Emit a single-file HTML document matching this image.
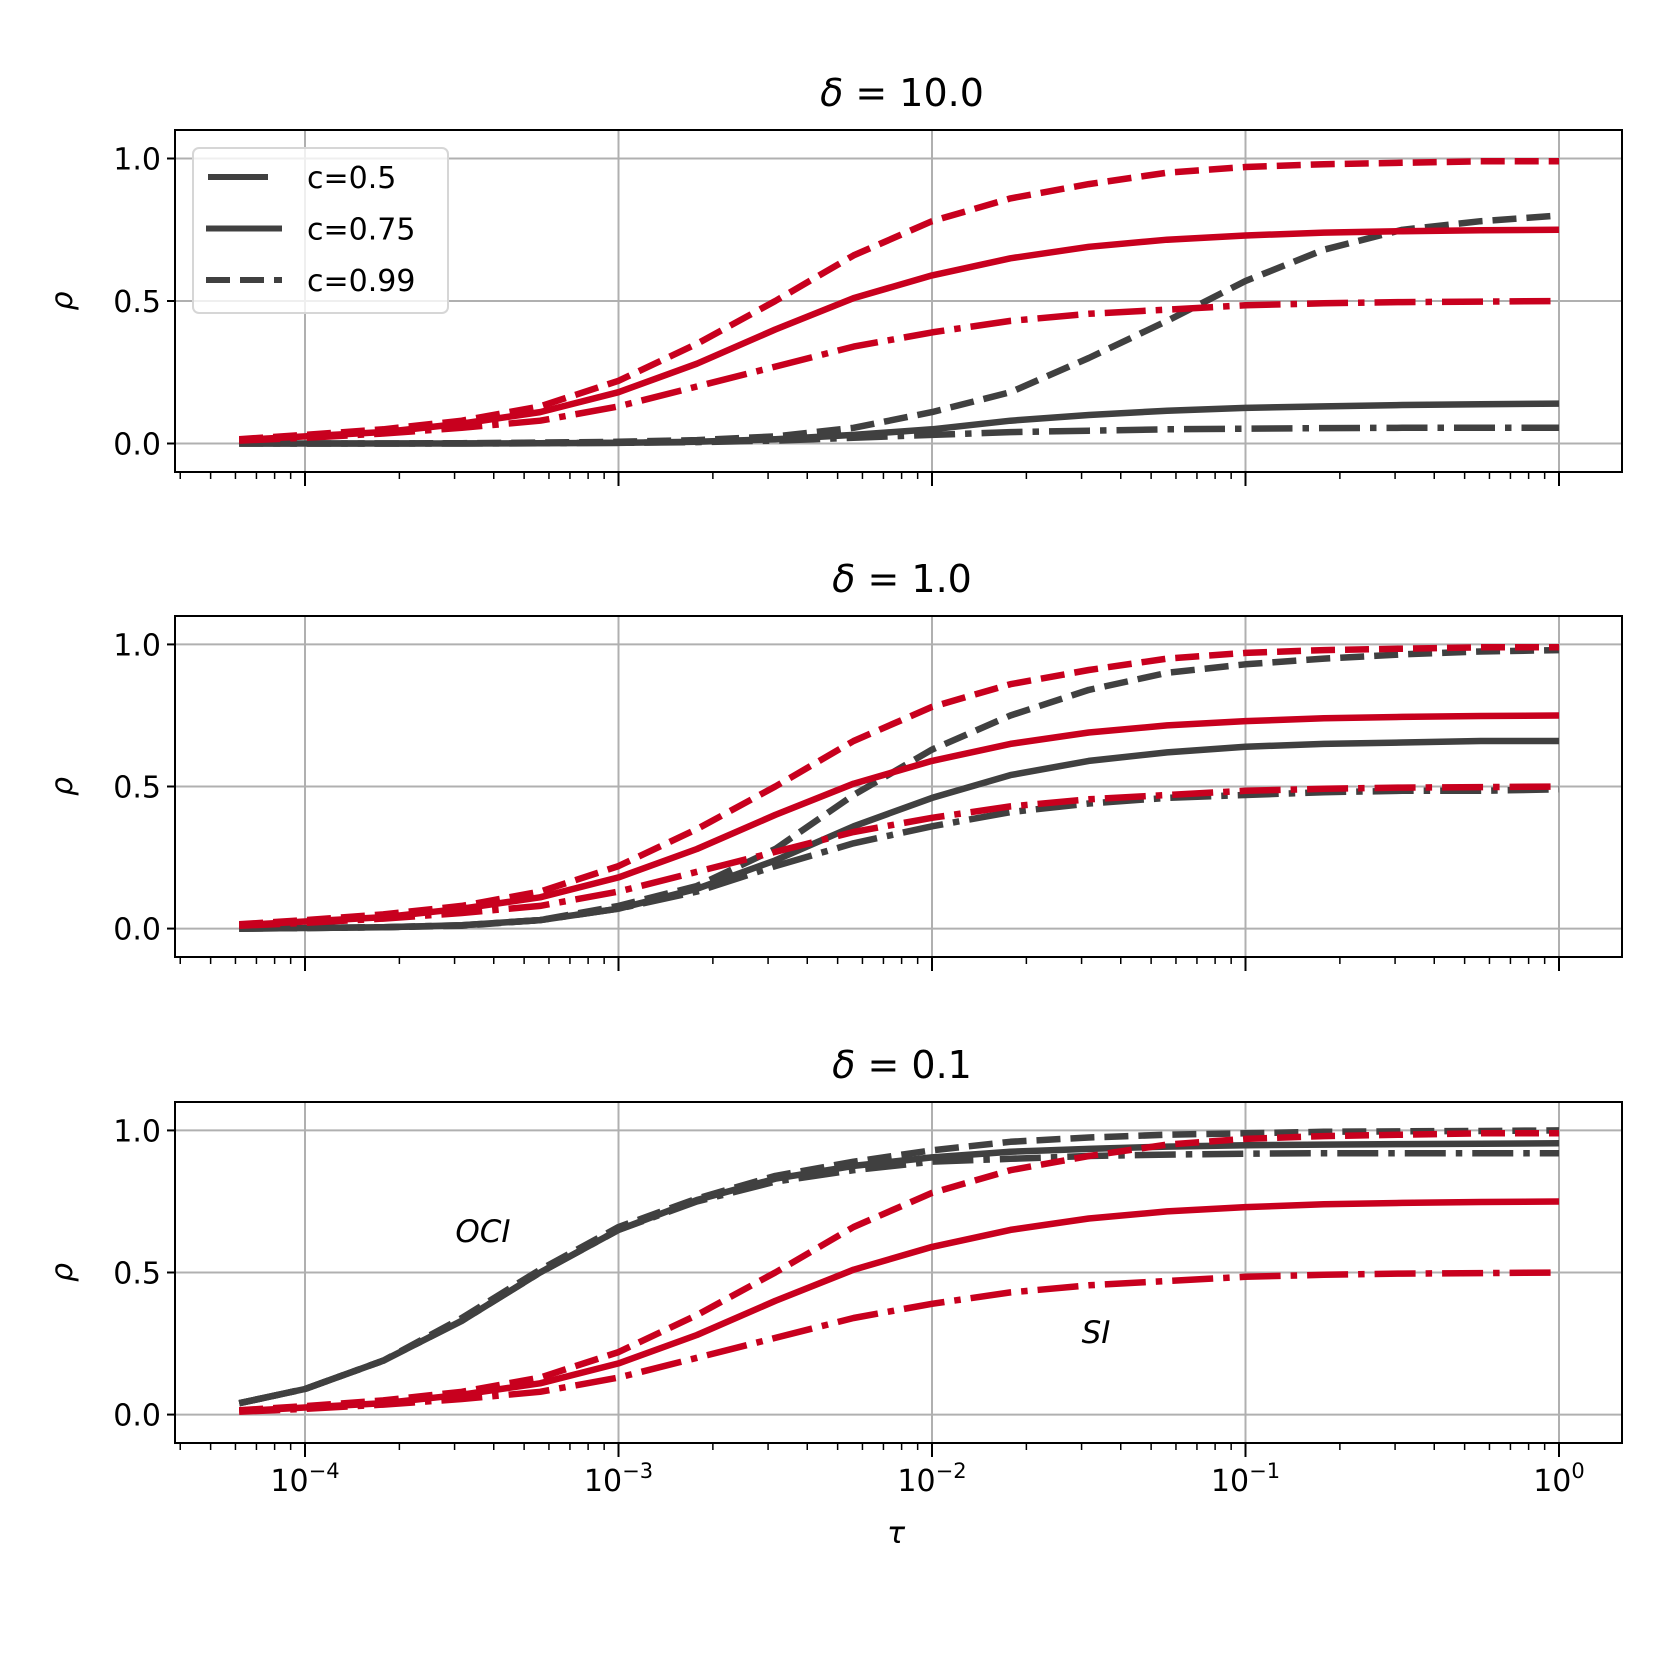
<!DOCTYPE html>
<html><head><meta charset="utf-8"><style>body{margin:0;background:#fff}svg{display:block}text{font-family:"DejaVu Sans","Liberation Sans",sans-serif}</style></head>
<body>
<svg id="chart" width="1661" height="1661" viewBox="0 0 1661 1661" xmlns="http://www.w3.org/2000/svg"></svg>
<script>
const logTau=[-4.21,-4,-3.75,-3.5,-3.25,-3,-2.75,-2.5,-2.25,-2,-1.75,-1.5,-1.25,-1,-0.75,-0.5,-0.25,0];
const panelTitles=["10.0","1.0","0.1"];
const siDashed=[0.015,0.03,0.05,0.08,0.13,0.22,0.35,0.50,0.66,0.78,0.86,0.91,0.95,0.97,0.98,0.985,0.99,0.99];
const siSolid=[0.012,0.025,0.04,0.07,0.11,0.18,0.28,0.40,0.51,0.59,0.65,0.69,0.715,0.73,0.74,0.745,0.748,0.75];
const siDashdot=[0.01,0.02,0.035,0.055,0.08,0.13,0.2,0.27,0.34,0.39,0.43,0.455,0.47,0.485,0.492,0.496,0.498,0.5];
const p1Dashed=[0,0,0,0.001,0.003,0.006,0.012,0.025,0.055,0.11,0.18,0.3,0.43,0.57,0.68,0.75,0.78,0.8];
const p1Solid=[0,0,0,0,0.001,0.002,0.006,0.015,0.03,0.05,0.08,0.1,0.115,0.125,0.13,0.135,0.138,0.14];
const p1Dashdot=[0,0,0,0,0.001,0.002,0.005,0.01,0.02,0.03,0.04,0.045,0.05,0.052,0.054,0.055,0.055,0.055];
const p2Dashed=[0,0.002,0.005,0.01,0.03,0.08,0.15,0.28,0.47,0.63,0.75,0.84,0.9,0.93,0.95,0.965,0.975,0.98];
const p2Solid=[0,0.002,0.005,0.012,0.03,0.07,0.14,0.24,0.36,0.46,0.54,0.59,0.62,0.64,0.65,0.655,0.66,0.66];
const p2Dashdot=[0,0.002,0.005,0.012,0.03,0.07,0.13,0.22,0.3,0.36,0.41,0.44,0.46,0.47,0.48,0.485,0.485,0.49];
const p3Dashed=[0.04,0.09,0.19,0.34,0.51,0.66,0.76,0.84,0.89,0.93,0.96,0.975,0.985,0.99,0.995,0.997,0.998,1.0];
const p3Solid=[0.04,0.09,0.19,0.33,0.5,0.65,0.755,0.83,0.875,0.905,0.925,0.935,0.943,0.948,0.95,0.952,0.953,0.955];
const p3Dashdot=[0.04,0.09,0.19,0.33,0.5,0.65,0.75,0.82,0.86,0.89,0.9,0.91,0.915,0.918,0.92,0.92,0.92,0.92];
const xTickExps=[-4,-3,-2,-1,0];
const yTicks=[0.0,0.5,1.0];

const NS="http://www.w3.org/2000/svg",svg=document.getElementById('chart');
function el(t,a,p){const e=document.createElementNS(NS,t);for(const k in a)e.setAttribute(k,a[k]);(p||svg).appendChild(e);return e;}
const L=175,R=1622,X0=305,DEC=313.5;
const sx=v=>X0+(v+4)*DEC;
const xmin=(L-X0)/DEC-4,xmax=(R-X0)/DEC-4;
const panels=[{top:130,bot:472},{top:616,bot:957},{top:1102,bot:1443}];
const RED="#c8001e",GRAY="#404040",LW=6.5;
const dashes={dashed:"24,10",solid:"",dashdot:"41,10,6.5,10"};
const grayData=[[p1Dashed,p1Solid,p1Dashdot],[p2Dashed,p2Solid,p2Dashdot],[p3Dashed,p3Solid,p3Dashdot]];
const redData=[siDashed,siSolid,siDashdot];
const styles=["dashed","solid","dashdot"];
panels.forEach((p,i)=>{
  const sy=v=>p.bot-(v+0.1)/1.2*(p.bot-p.top);
  const g=el('g',{});
  
  
  xTickExps.forEach(e=>{const l=el('line',{x1:sx(e),x2:sx(e),y1:p.top,y2:p.bot,stroke:'#b0b0b0','stroke-width':2},g);});
  yTicks.forEach(v=>{const l=el('line',{x1:L,x2:R,y1:sy(v),y2:sy(v),stroke:'#b0b0b0','stroke-width':2},g);
    el('line',{x1:L-8,x2:L,y1:sy(v),y2:sy(v),stroke:'#000','stroke-width':2},g);
    const t=el('text',{x:L-14,y:sy(v)+11,'text-anchor':'end','font-size':30},g);t.textContent=v.toFixed(1);});
  for(let d=-5;d<=0;d++){for(let m=1;m<10;m++){const v=d+Math.log10(m);if(v<xmin||v>xmax)continue;
    el('line',{x1:sx(v),x2:sx(v),y1:p.bot,y2:p.bot+(m==1?14:7),stroke:'#000','stroke-width':m==1?2:1.5},g);}}
  const series=(data,color,st,name)=>{
    const pts=data.map((v,k)=>sx(logTau[k]).toFixed(1)+','+sy(v).toFixed(1)).join(' ');
    const pl=el('polyline',{points:pts,fill:'none',stroke:color,'stroke-width':LW,'stroke-dasharray':dashes[st]||'none','stroke-linejoin':'round'},g);
    };
  grayData[i].forEach((d,k)=>series(d,GRAY,styles[k],'oci-'+styles[k]+'-line'));
  redData.forEach((d,k)=>series(d,RED,styles[k],'si-'+styles[k]+'-line'));
  el('rect',{x:L,y:p.top,width:R-L,height:p.bot-p.top,fill:'none',stroke:'#000','stroke-width':2},g);
  const tt=el('text',{x:902,y:p.top-24,'text-anchor':'middle','font-size':38,'xml:space':'preserve'},g);
  tt.innerHTML='<tspan font-style="italic">δ</tspan> =  '+panelTitles[i];
  
  const yl=el('text',{x:0,y:0,'text-anchor':'middle','font-size':30,'font-style':'italic',transform:`translate(72,${sy(0.5)}) rotate(-90)`},g);yl.textContent='ρ';
  
  if(i==2){xTickExps.forEach(e=>{const t=el('text',{x:sx(e),y:p.bot+48,'text-anchor':'middle','font-size':30},g);
    t.innerHTML='10<tspan dy="-13" font-size="21">'+(e<0?'−'+(-e):e)+'</tspan>';
    });
    const xl=el('text',{x:896,y:1543,'text-anchor':'middle','font-size':30,'font-style':'italic'},g);xl.textContent='τ';
    
    const a1=el('text',{x:483,y:1242,'text-anchor':'middle','font-size':31,'font-style':'italic'},g);a1.textContent='OCI';
    
    const a2=el('text',{x:1096,y:1343,'text-anchor':'middle','font-size':31,'font-style':'italic'},g);a2.textContent='SI';
    }
});
const lg=el('g',{});


el('rect',{x:193,y:148,width:255,height:165,rx:6,fill:'rgba(255,255,255,0.8)',stroke:'#d6d6d6','stroke-width':2},lg);
const legLabels=["c=0.5","c=0.75","c=0.99"];
const legDash=["60,100","","24,10"];
legLabels.forEach((s,k)=>{const y=177+k*51.5;
  const ln=el('line',{x1:k==0?208:206,x2:282,y1:y,y2:y,stroke:GRAY,'stroke-width':6,'stroke-dasharray':legDash[k]||'none'},lg);
  
  const t=el('text',{x:307,y:y+11,'font-size':30},lg);t.textContent=s;
  });
</script>
</body></html>
